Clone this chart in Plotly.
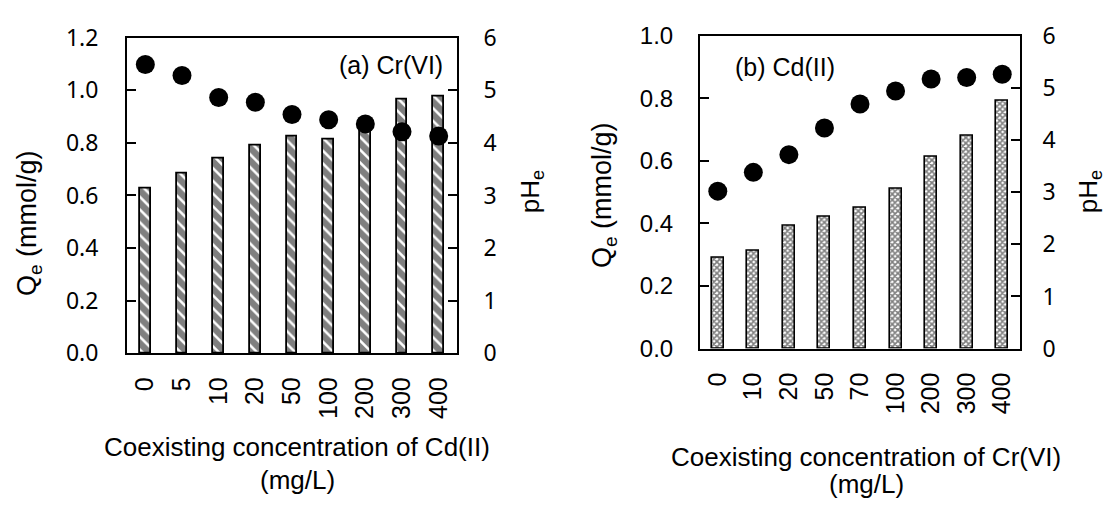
import plotly.graph_objects as go

# ---------------- data ----------------
cats_a = ["0", "5", "10", "20", "50", "100", "200", "300", "400"]   # Cd(II) coexisting, mg/L
qe_a = [0.625, 0.682, 0.739, 0.789, 0.824, 0.812, 0.862, 0.964, 0.976]
ph_a = [5.49, 5.28, 4.86, 4.77, 4.54, 4.44, 4.36, 4.21, 4.13]

cats_b = ["0", "10", "20", "50", "70", "100", "200", "300", "400"]  # Cr(VI) coexisting, mg/L
qe_b = [0.290, 0.313, 0.392, 0.423, 0.450, 0.510, 0.613, 0.680, 0.792]
ph_b = [3.02, 3.38, 3.72, 4.23, 4.69, 4.94, 5.17, 5.20, 5.26]

W, H = 1105, 506

def px_x(v):
    return v / W

def px_y(v):
    return 1 - v / H

ARIAL = "Liberation Sans, Arial, sans-serif"
SEGOE = "Noto Sans, Open Sans, sans-serif"

fig = go.Figure()

# ---- panel (a) ----
fig.add_trace(go.Bar(
    x=cats_a, y=qe_a, xaxis="x", yaxis="y", width=0.29,
    marker=dict(color="white", line=dict(color="black", width=1.8),
                pattern=dict(shape="\\", size=9, solidity=0.72,
                             fgcolor="black", bgcolor="white")),
    showlegend=False))
fig.add_trace(go.Scatter(
    x=cats_a, y=ph_a, xaxis="x", yaxis="y2", mode="markers",
    marker=dict(color="black", size=19), showlegend=False))

# ---- panel (b) ----
fig.add_trace(go.Bar(
    x=cats_b, y=qe_b, xaxis="x2", yaxis="y3", width=0.34,
    marker=dict(color="white", line=dict(color="black", width=1.6),
                pattern=dict(shape="x", size=4, solidity=0.65,
                             fgcolor="black", bgcolor="white")),
    showlegend=False))
fig.add_trace(go.Scatter(
    x=cats_b, y=ph_b, xaxis="x2", yaxis="y4", mode="markers",
    marker=dict(color="black", size=19), showlegend=False))

dom_ax = [px_x(127), px_x(457)]
dom_ay = [px_y(359), px_y(22)]
dom_bx = [px_x(700), px_x(1020)]
dom_by = [px_y(354), px_y(20)]

common_x = dict(type="category", showline=True, linecolor="black", linewidth=2,
                mirror=True, ticks="", tickangle=-90, showgrid=False,
                tickfont=dict(family=ARIAL, size=25, color="black"),
                ticklabelstandoff=12, range=[-0.5, 8.5], fixedrange=True)

common_y = dict(showline=True, linecolor="black", linewidth=2, ticks="inside",
                ticklen=9, tickwidth=2, tickcolor="black", showgrid=False,
                zeroline=False, fixedrange=True)

fig.update_layout(
    width=W, height=H,
    margin=dict(l=0, r=0, t=0, b=0),
    paper_bgcolor="white", plot_bgcolor="white",
    bargap=0,
    xaxis=dict(common_x, domain=dom_ax, anchor="y"),
    yaxis=dict(common_y, domain=dom_ay, anchor="x", range=[0, 1.2],
               tickvals=[0, 0.2, 0.4, 0.6, 0.8, 1.0, 1.2], tickformat=".1f",
               tickfont=dict(family=SEGOE, size=23, color="black"),
               ticklabelstandoff=22),
    yaxis2=dict(common_y, overlaying="y", side="right", anchor="x", range=[0, 6],
                tickvals=[0, 1, 2, 3, 4, 5, 6],
                tickfont=dict(family=SEGOE, size=23, color="black"),
                ticklabelstandoff=20),
    xaxis2=dict(common_x, domain=dom_bx, anchor="y3"),
    yaxis3=dict(common_y, domain=dom_by, anchor="x2", range=[0, 1.0],
                tickvals=[0, 0.2, 0.4, 0.6, 0.8, 1.0], tickformat=".1f",
                tickfont=dict(family=ARIAL, size=24, color="black"),
                ticklabelstandoff=20),
    yaxis4=dict(common_y, overlaying="y3", side="right", anchor="x2", range=[0, 6],
                tickvals=[0, 1, 2, 3, 4, 5, 6],
                tickfont=dict(family=SEGOE, size=23, color="black"),
                ticklabelstandoff=16),
)

ann = []
def add_text(text, x, y, size, family=ARIAL, xanchor="center", angle=0):
    ann.append(dict(text=text, x=px_x(x), y=px_y(y), xref="paper", yref="paper",
                    xanchor=xanchor, yanchor="middle", showarrow=False,
                    textangle=angle, font=dict(family=family, size=size, color="black")))

# panel labels
add_text("(a) Cr(VI)", 445, 51, 25, xanchor="right")
add_text("(b) Cd(II)", 733, 53, 25, xanchor="left")

# y titles
add_text("Q<sub>e</sub> (mmol/g)", 29, 220, 27, angle=-90)
add_text("pH<sub>e</sub>", 531, 187, 26, angle=-90)
add_text("Q<sub>e</sub> (mmol/g)", 604, 190, 27, angle=-90)
add_text("pH<sub>e</sub>", 1089, 187, 26, angle=-90)

# x titles
add_text("Coexisting concentration of Cd(II)", 297, 459, 26)
add_text("(mg/L)", 297, 494, 26)
add_text("Coexisting concentration of Cr(VI)", 866, 470, 26)
add_text("(mg/L)", 866, 498, 26)

fig.update_layout(annotations=ann)

fig.write_html("out.html")
